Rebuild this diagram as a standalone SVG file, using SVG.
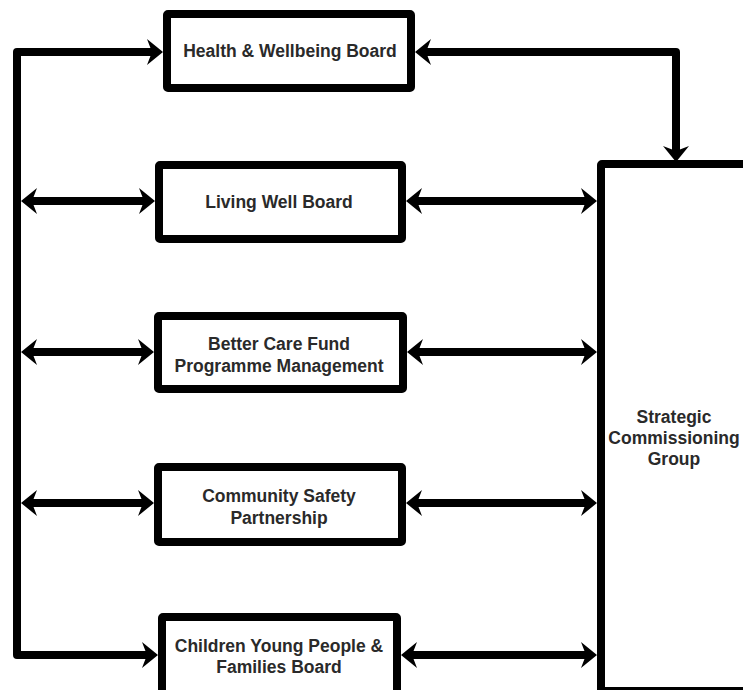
<svg xmlns="http://www.w3.org/2000/svg" width="743" height="690" viewBox="0 0 743 690">
<style>
.box{fill:#fff;stroke:#000;stroke-width:8;stroke-linejoin:round}
.lbl{font-family:"Liberation Sans",Arial,sans-serif;font-weight:bold;font-size:17.5px;fill:#2a2a2a;text-anchor:middle}
.con{fill:none;stroke:#000;stroke-width:8;stroke-linejoin:round}
.bi{marker-start:url(#ah);marker-end:url(#ah)}
</style>
<defs>
<marker id="ah" markerUnits="userSpaceOnUse" viewBox="-20 -16 24 32" refX="-8" refY="0" markerWidth="24" markerHeight="32" orient="auto-start-reverse" overflow="visible">
<path d="M0,0 L-16,-13 L-11,0 L-16,13 Z" fill="#000"/>
</marker>
</defs>
<rect width="743" height="690" fill="#fff"/>
<g id="connectors">
<path class="con bi" d="M155,52 H17 V655 H150"/>
<path class="con bi" d="M29,201 H147"/>
<path class="con bi" d="M29,352 H146"/>
<path class="con bi" d="M29,503 H146"/>
<path class="con bi" d="M423,52 H676 V154"/>
<path class="con bi" d="M414,201 H589"/>
<path class="con bi" d="M415,352 H589"/>
<path class="con bi" d="M414,503 H589"/>
<path class="con bi" d="M409,655 H589"/>
</g>
<g id="health">
<rect class="box" x="167" y="14" width="244" height="74" rx="1"/>
<text class="lbl" x="290" y="57">Health &amp; Wellbeing Board</text>
</g>
<g id="living">
<rect class="box" x="159" y="165" width="243" height="74" rx="1"/>
<text class="lbl" x="279" y="208">Living Well Board</text>
</g>
<g id="bcf">
<rect class="box" x="158" y="316" width="245" height="73" rx="1"/>
<text class="lbl" x="279" y="350">Better Care Fund</text>
<text class="lbl" x="279" y="372">Programme Management</text>
</g>
<g id="csp">
<rect class="box" x="158" y="467" width="244" height="75" rx="1"/>
<text class="lbl" x="279" y="502">Community Safety</text>
<text class="lbl" x="279" y="523.5">Partnership</text>
</g>
<g id="cypf">
<rect class="box" x="162" y="617" width="235" height="78" rx="1"/>
<text class="lbl" x="279" y="652">Children Young People &amp;</text>
<text class="lbl" x="279" y="673">Families Board</text>
</g>
<g id="scg">
<rect class="box" x="601" y="164" width="200" height="527" rx="1"/>
<text class="lbl" x="674" y="423">Strategic</text>
<text class="lbl" x="674" y="444">Commissioning</text>
<text class="lbl" x="674" y="465">Group</text>
</g>
</svg>
